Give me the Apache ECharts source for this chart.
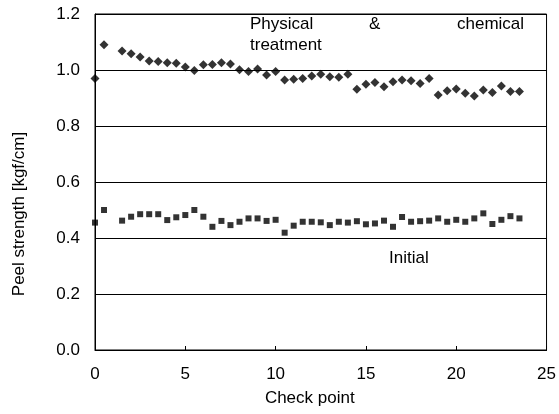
<!DOCTYPE html>
<html>
<head>
<meta charset="utf-8">
<script src="https://cdn.jsdelivr.net/npm/echarts@6/dist/echarts.min.js"></script>
<style>
html,body{margin:0;padding:0;background:#fff;}
#main{width:559px;height:414px;}
</style>
</head>
<body>
<div id="main"></div>
<script>
// check points (x), there is no point at 1.0
var checkPoints = [0, 0.5, 1.5, 2, 2.5, 3, 3.5, 4, 4.5, 5, 5.5, 6, 6.5, 7, 7.5, 8, 8.5, 9, 9.5, 10,
	10.5, 11, 11.5, 12, 12.5, 13, 13.5, 14, 14.5, 15, 15.5, 16, 16.5, 17, 17.5, 18, 18.5, 19, 19.5, 20,
	20.5, 21, 21.5, 22, 22.5, 23, 23.5];
// physical & chemical treatment (diamonds)
var treated = [0.97, 1.09, 1.068, 1.058, 1.046, 1.032, 1.03, 1.026, 1.024, 1.011, 0.998, 1.019, 1.02, 1.026, 1.021, 1.001, 0.995, 1.004, 0.982, 0.995,
	0.964, 0.967, 0.97, 0.979, 0.985, 0.976, 0.974, 0.985, 0.931, 0.949, 0.955, 0.94, 0.958, 0.964, 0.962, 0.952, 0.97, 0.911, 0.926, 0.932,
	0.917, 0.907, 0.929, 0.92, 0.943, 0.923, 0.923];
// initial (squares)
var initial = [0.455, 0.50, 0.462, 0.476, 0.485, 0.485, 0.485, 0.464, 0.474, 0.482, 0.50, 0.476, 0.44, 0.461, 0.446, 0.458, 0.47, 0.47, 0.461, 0.465,
	0.419, 0.444, 0.458, 0.458, 0.456, 0.446, 0.458, 0.455, 0.46, 0.449, 0.452, 0.462, 0.44, 0.475, 0.458, 0.46, 0.462, 0.47, 0.458, 0.465,
	0.458, 0.47, 0.488, 0.45, 0.465, 0.478, 0.47];
var xTicks = [0, 5, 10, 15, 20, 25];
var yTicks = [0.0, 0.2, 0.4, 0.6, 0.8, 1.0, 1.2];

function pairs(vals) {
	var out = [];
	for (var i = 0; i < checkPoints.length; i++) {
		out.push([checkPoints[i], vals[i]]);
	}
	return out;
}

var font = 'Liberation Sans, Arial, sans-serif';
var myChart = echarts.init(document.getElementById('main'));
var option = {
	animation: false,
	backgroundColor: '#fff',
	grid: {
		left: 95, right: 9, top: 14, bottom: 64,
		show: true, borderColor: '#000', borderWidth: 1
	},
	xAxis: {
		type: 'value',
		min: xTicks[0], max: xTicks[xTicks.length - 1], interval: 5,
		name: 'Check point',
		nameLocation: 'middle',
		nameGap: 40,
		nameTextStyle: { fontFamily: font, fontSize: 17, color: '#000', padding: [0, 22, 0, 0] },
		axisLine: { lineStyle: { color: '#000', width: 1 } },
		axisTick: { inside: true, length: 4, lineStyle: { color: '#000' } },
		axisLabel: { fontFamily: font, fontSize: 17, color: '#000', margin: 16 },
		splitLine: { show: false }
	},
	yAxis: {
		type: 'value',
		min: yTicks[0], max: yTicks[yTicks.length - 1], interval: 0.2,
		name: 'Peel strength [kgf/cm]',
		nameLocation: 'middle',
		nameGap: 67,
		nameTextStyle: { fontFamily: font, fontSize: 17, color: '#000', padding: [0, 64, 0, 0] },
		axisLine: { show: true, lineStyle: { color: '#000', width: 1 } },
		axisTick: { show: true, inside: true, length: 4, lineStyle: { color: '#000' } },
		axisLabel: {
			fontFamily: font, fontSize: 17, color: '#000', margin: 15,
			formatter: function (v) { return v.toFixed(1); }
		},
		splitLine: { show: true, lineStyle: { color: '#000', width: 1 } }
	},
	graphic: [
		{ type: 'text', left: 250, top: 16, style: { text: 'Physical', font: '17px ' + font, fill: '#000' } },
		{ type: 'text', left: 369, top: 16, style: { text: '&', font: '17px ' + font, fill: '#000' } },
		{ type: 'text', left: 457, top: 16, style: { text: 'chemical', font: '17px ' + font, fill: '#000' } },
		{ type: 'text', left: 250, top: 37, style: { text: 'treatment', font: '17px ' + font, fill: '#000' } },
		{ type: 'text', left: 389, top: 250, style: { text: 'Initial', font: '17px ' + font, fill: '#000' } }
	],
	series: [
		{
			name: 'Physical & chemical treatment',
			type: 'scatter',
			symbol: 'diamond',
			symbolSize: 9,
			itemStyle: { color: '#000' },
			data: pairs(treated)
		},
		{
			name: 'Initial',
			type: 'scatter',
			symbol: 'rect',
			symbolSize: 6,
			itemStyle: { color: '#000' },
			data: pairs(initial)
		}
	]
};
myChart.setOption(option);
window.onresize = myChart.resize;
</script>
</body>
</html>
